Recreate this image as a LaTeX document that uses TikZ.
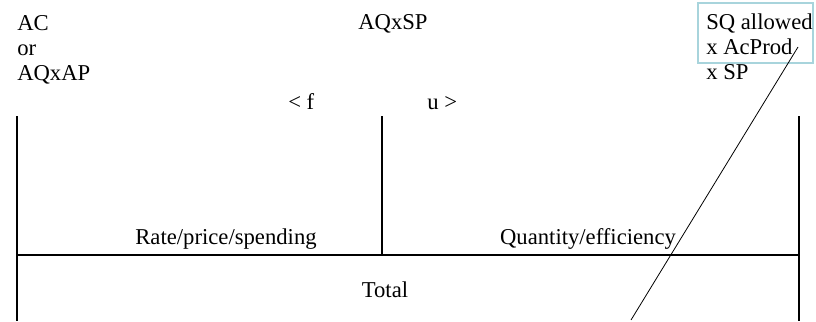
\documentclass[tikz,border=0pt]{standalone}
\usepackage{fontspec}
\setmainfont{Liberation Serif}
\usepackage{tikz}
\usetikzlibrary{positioning}
\definecolor{SplitFrameBlue}{HTML}{A8D4DC}
\tikzset{
  slabel/.style={inner sep=0pt,font=\fontsize{17}{18.75}\selectfont,align=left},
  frameline/.style={line width=1.5pt,black},
  slashline/.style={line width=0.6pt,black},
  sqframe/.style={draw=SplitFrameBlue,line width=0.8pt}
}
\begin{document}
\begin{tikzpicture}[x=0.75pt,y=-0.75pt]
  \path[use as bounding box] (0,0) rectangle (816,321);

  % corners of the split frame
  \coordinate (lefttop) at (16.5,116);
  \coordinate (leftbot) at (16.5,321);
  \coordinate (midtop) at (381.5,116);
  \coordinate (midbot) at (381.5,255);
  \coordinate (righttop) at (798.5,116);
  \coordinate (rightbot) at (798.5,321);
  \coordinate (leftmid) at (16.5,255);
  \coordinate (rightmid) at (798.5,255);

  \draw[frameline] (lefttop) -- (leftbot);
  \draw[frameline] (midtop) -- (midbot);
  \draw[frameline] (righttop) -- (rightbot);
  \draw[frameline] (leftmid) -- (rightmid);

  % top labels
  \node[slabel,anchor=north west] (acnode) at (17,15) {AC\\or\\AQxAP};
  \node[slabel,anchor=base west] (aqsp) at (358,30) {AQxSP};
  \node[slabel,anchor=base west] (fleft) at (288,109) {< f};
  \node[slabel,anchor=base west] (uright) at (427,109) {u >};

  \draw[sqframe] (698,3) rectangle (813,63);
  \node[slabel,anchor=north west] (sqnode) at (706,14) {SQ allowed\\x AcProd\\x SP};

  % cell labels
  \node[slabel,anchor=base] (rate) at (226,244) {Rate/price/spending};
  \node[slabel,anchor=base] (qty) at (588,244) {Quantity/efficiency};
  \node[slabel,anchor=base] (total) at (385,297) {Total};

  % slash from the box
  \coordinate (slashtop) at (798,47);
  \coordinate (slashbot) at (631,320);
  \draw[slashline] (slashtop) -- (slashbot);
\end{tikzpicture}
\end{document}
